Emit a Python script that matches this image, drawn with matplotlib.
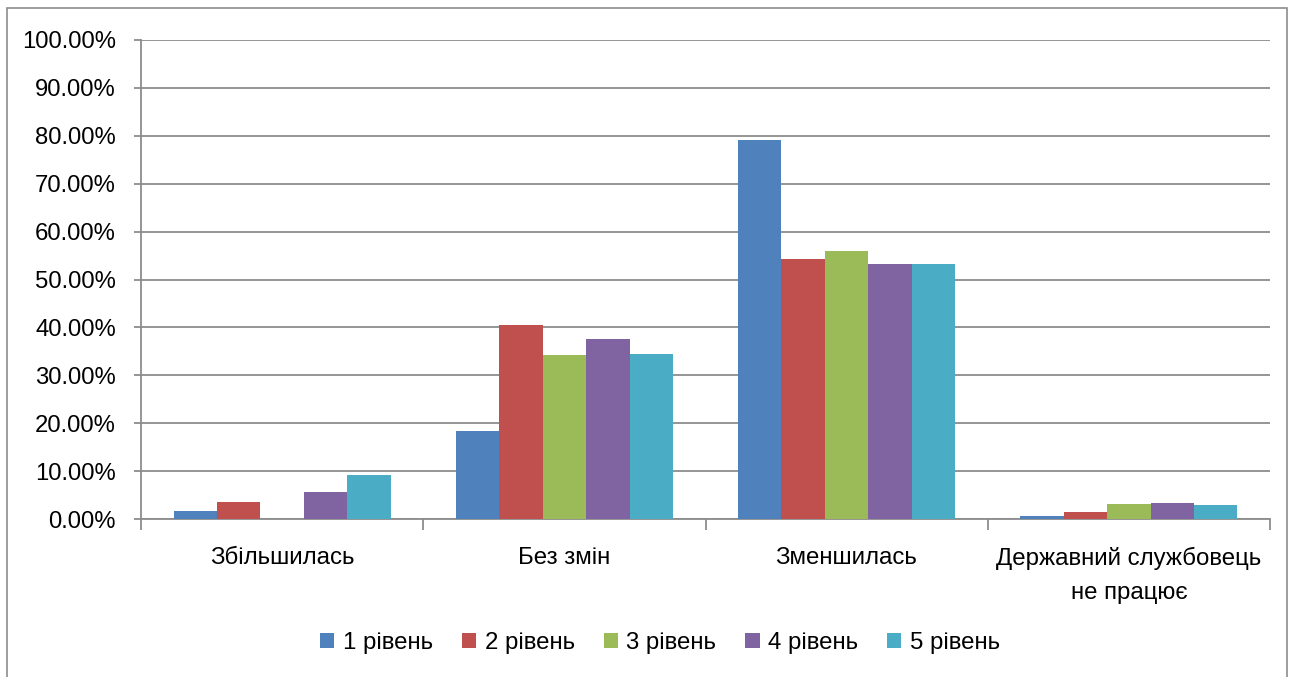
import numpy as np
import matplotlib
matplotlib.use('Agg')
import matplotlib.pyplot as plt
from matplotlib.patches import Rectangle
from matplotlib.ticker import FuncFormatter, FixedLocator

plt.rcParams['font.family'] = ['Liberation Sans', 'DejaVu Sans']

# Categories and shares per level (percent)
categories = ['Збільшилась', 'Без змін', 'Зменшилась', 'Державний службовець\nне працює']
series_names = ['1 рівень', '2 рівень', '3 рівень', '4 рівень', '5 рівень']
level1 = [1.67, 18.46, 79.02, 0.56]
level2 = [3.55, 40.60, 54.23, 1.39]
level3 = [0.00, 34.17, 55.90, 3.20]
level4 = [5.57, 37.50, 53.25, 3.40]
level5 = [9.10, 34.38, 53.25, 2.98]
colors = ['#4F81BD', '#C0504D', '#9BBB59', '#8064A2', '#4BACC6']

series = [level1, level2, level3, level4, level5]

fig = plt.figure(figsize=(12.91, 6.77), dpi=100)
ax = fig.add_axes([141 / 1291, 1 - 519 / 677, (1270 - 141) / 1291, (519 - 40) / 677])

# outer chart frame
fig.patches.append(Rectangle((7 / 1291, -0.01), (1287 - 7) / 1291, 1 - 8 / 677 + 0.01,
                             transform=fig.transFigure, fill=False,
                             edgecolor='#8c8c8c', linewidth=1.2))

x = np.arange(len(categories))
width = 1 / (len(series) + 1.5)
for i, (vals, name, c) in enumerate(zip(series, series_names, colors)):
    offset = (i - (len(series) - 1) / 2) * width
    ax.bar(x + offset, vals, width, color=c, label=name, zorder=3)

ax.set_xlim(-0.5, len(categories) - 0.5)
ax.set_ylim(0, 100)
ax.set_yticks(np.arange(0, 101, 10))
ax.yaxis.set_major_formatter(FuncFormatter(lambda v, p: f'{v:.2f}%'))
ax.yaxis.grid(True, color='#8c8c8c', linewidth=1.3, zorder=0)

ax.set_xticks(x)
ax.set_xticklabels(categories, fontsize=17.3, linespacing=1.7)
ax.xaxis.set_minor_locator(FixedLocator(np.arange(-0.5, len(categories), 1)))
ax.tick_params(axis='x', which='major', length=0, pad=20)
ax.tick_params(axis='x', which='minor', length=8, width=1.3, color='#8c8c8c')
ax.tick_params(axis='y', length=5, width=1.3, color='#8c8c8c', labelsize=17.2, pad=13)

for side in ['top', 'right']:
    ax.spines[side].set_visible(False)
for side in ['left', 'bottom']:
    ax.spines[side].set_color('#8c8c8c')
    ax.spines[side].set_linewidth(1.3)

ax.legend(loc='center', bbox_to_anchor=(660 / 1291, 1 - 643 / 677),
          bbox_transform=fig.transFigure, ncol=5, frameon=False,
          fontsize=17.3, handlelength=0.6, handleheight=0.6,
          handletextpad=0.35, columnspacing=1.2)

fig.savefig('out.png', dpi=100)
